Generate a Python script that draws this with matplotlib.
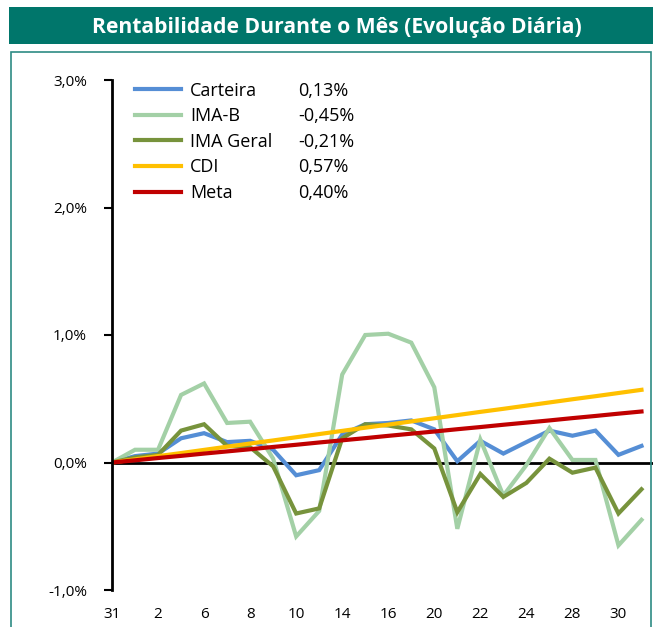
import matplotlib.pyplot as plt
from matplotlib.patches import Rectangle
from matplotlib.ticker import FuncFormatter

plt.rcParams['font.family'] = ['Open Sans', 'DejaVu Sans']

# dias úteis do mês (31 = último dia do mês anterior)
dias = ['31', '1', '2', '3', '6', '7', '8', '9', '10', '13', '14', '15',
        '16', '17', '20', '21', '22', '23', '24', '27', '28', '29', '30', '31']

# rentabilidade acumulada (%)
carteira = [0.00, 0.05, 0.07, 0.19, 0.23, 0.16, 0.17, 0.10, -0.10, -0.06, 0.22, 0.30,
            0.31, 0.33, 0.26, 0.01, 0.17, 0.07, 0.16, 0.25, 0.21, 0.25, 0.06, 0.13]
ima_b = [0.00, 0.10, 0.10, 0.53, 0.62, 0.31, 0.32, 0.03, -0.58, -0.38, 0.69, 1.00,
         1.01, 0.94, 0.59, -0.52, 0.18, -0.26, -0.02, 0.27, 0.02, 0.02, -0.65, -0.45]
ima_geral = [0.00, 0.04, 0.06, 0.25, 0.30, 0.13, 0.12, -0.03, -0.40, -0.36, 0.19, 0.30,
             0.29, 0.26, 0.11, -0.39, -0.09, -0.27, -0.16, 0.03, -0.08, -0.04, -0.40, -0.21]
cdi = [0.000, 0.025, 0.050, 0.074, 0.099, 0.124, 0.149, 0.173, 0.198, 0.223, 0.248, 0.273,
       0.297, 0.322, 0.347, 0.372, 0.397, 0.421, 0.446, 0.471, 0.496, 0.520, 0.545, 0.570]
meta = [0.000, 0.017, 0.035, 0.052, 0.070, 0.087, 0.104, 0.122, 0.139, 0.157, 0.174, 0.191,
        0.209, 0.226, 0.243, 0.261, 0.278, 0.296, 0.313, 0.330, 0.348, 0.365, 0.383, 0.400]

nomes = ['Carteira', 'IMA-B', 'IMA Geral', 'CDI', 'Meta']
valores = ['0,13%', '-0,45%', '-0,21%', '0,57%', '0,40%']
cores = ['#558ED5', '#A3D0A6', '#77933C', '#FFC000', '#C00000']

W, H = 653, 627
fig = plt.figure(figsize=(W / 100, H / 100), dpi=100)

# faixa do título e moldura
fig.patches.append(Rectangle((9 / W, 1 - 44 / H), 1, 37 / H, transform=fig.transFigure,
                             facecolor='#00766B', edgecolor='none'))
fig.text(337 / W, 1 - 27 / H, 'Rentabilidade Durante o Mês (Evolução Diária)',
         color='white', fontsize=15.2, fontweight='bold', ha='center', va='center')
fig.patches.append(Rectangle((11 / W, -0.05), (651 - 11) / W, 1.05 - 52 / H,
                             transform=fig.transFigure, facecolor='none',
                             edgecolor='#2E8B84', linewidth=1.2))

ax = fig.add_axes([112 / W, 1 - 590 / H, (W - 112) / W, (590 - 80) / H])
x = list(range(len(dias)))
series = [carteira, ima_b, ima_geral, cdi, meta]
ax.axhline(0, color='black', linewidth=2, zorder=1)
for serie, nome, cor in zip(series, nomes, cores):
    ax.plot(x, serie, color=cor, linewidth=3, label=nome, zorder=2,
            solid_joinstyle='miter')

ax.set_xlim(0, 23.5)
ax.set_ylim(-1, 3)
ax.set_yticks([-1, 0, 1, 2, 3])
ax.yaxis.set_major_formatter(FuncFormatter(lambda v, p: f'{v:.1f}%'.replace('.', ',')))
ax.set_xticks(x[::2])
ax.set_xticklabels(dias[::2])
ax.tick_params(axis='y', direction='out', length=6, width=1.5, labelsize=11, pad=12)
ax.tick_params(axis='x', length=0, labelsize=11, pad=12)
for s in ['top', 'right', 'bottom']:
    ax.spines[s].set_visible(False)
ax.spines['left'].set_linewidth(2)
ax.patch.set_visible(False)

leg = ax.legend(loc='upper left', bbox_to_anchor=(23 / (W - 112), 1 - 1.5 / 510),
                frameon=False, fontsize=13, handlelength=2.55, handletextpad=0.5,
                labelspacing=0.42, borderpad=0, borderaxespad=0)
fig.canvas.draw()
inv = fig.transFigure.inverted()
for t, v in zip(leg.get_texts(), valores):
    bb = t.get_window_extent()
    yc = (bb.y0 + bb.y1) / 2
    fig.text(298 / W, inv.transform((0, yc))[1], v, fontsize=13, va='center', ha='left')

fig.savefig('out.png', dpi=100)
